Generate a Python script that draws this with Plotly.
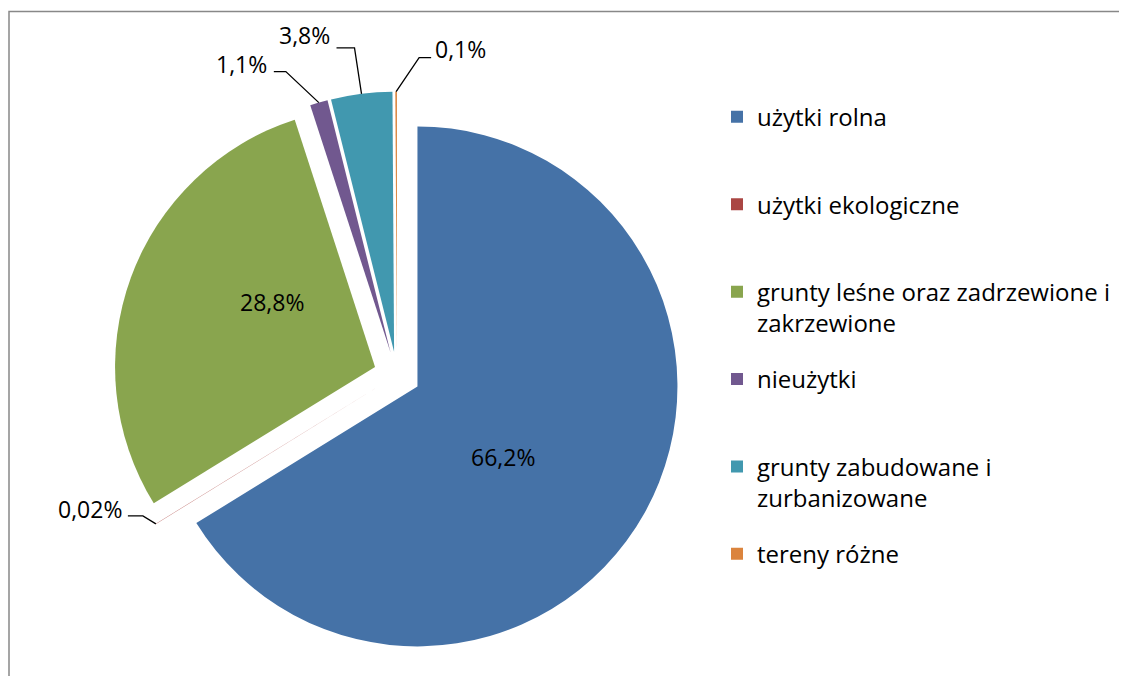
import numpy as np
import plotly.graph_objects as go

# ---- data ----
categories = ["użytki rolna", "użytki ekologiczne",
              "grunty leśne oraz zadrzewione i zakrzewione", "nieużytki",
              "grunty zabudowane i zurbanizowane", "tereny różne"]
legend_text = ["użytki rolna<br> ", "użytki ekologiczne<br> ",
               "grunty leśne oraz zadrzewione i<br>zakrzewione", "nieużytki<br> ",
               "grunty zabudowane i<br>zurbanizowane", "tereny różne<br> "]
values = [66.2, 0.02, 28.8, 1.1, 3.8, 0.1]
colors = ["#4572A7", "#AA4643", "#89A54E", "#71588F", "#4198AF", "#DB843D"]

# figure size (page body adds an 8px margin)
W, H = 1119, 668
FONT = "Open Sans"
FS_LAB = 23
FS_LEG = 24
pull = 0.09
dom_x = [0.0944, 0.6009]
dom_y = [0.02635, 0.87485]

labels_txt = [f"{v:g}".replace(".", ",") + "%" for v in values]

fig = go.Figure()
fig.add_trace(go.Pie(
    labels=categories, values=values, sort=False, direction="clockwise",
    rotation=0, pull=[pull] * len(values),
    marker=dict(colors=colors, line=dict(width=0)),
    text=labels_txt, textinfo="none",
    domain=dict(x=dom_x, y=dom_y), showlegend=False, hoverinfo="label+text",
))

# legend entries
for i, (lab, c) in enumerate(zip(legend_text, colors)):
    fig.add_trace(go.Scatter(x=[None], y=[None], mode="markers", name=lab,
                             marker=dict(symbol="square", size=12, color=c),
                             legendgroup=str(i), showlegend=True, hoverinfo="skip"))

# geometry derived from the data
cx = W * (dom_x[0] + dom_x[1]) / 2
cy = H * (1 - (dom_y[0] + dom_y[1]) / 2)
r_out = min(W * (dom_x[1] - dom_x[0]), H * (dom_y[1] - dom_y[0])) / 2
r_in = r_out / (1 + pull)
total = sum(values)
cum = np.cumsum([0] + values)

def px2p(x, y):
    return x / W, 1 - y / H

def mid_dir(i):
    th = 2 * np.pi * (cum[i] + cum[i + 1]) / 2 / total
    return np.sin(th), -np.cos(th)

shapes = []
annotations = []

# inside labels: distance from slice apex along bisector, plus pixel nudge
inside_style = {0: (110, (-11, 17)), 2: (123, (12, -23))}
for i, (d, (sx, sy)) in inside_style.items():
    ux, uy = mid_dir(i)
    ax_ = cx + pull * r_in * ux + d * ux + sx
    ay_ = cy + pull * r_in * uy + d * uy + sy
    p = px2p(ax_, ay_)
    annotations.append(dict(xref="paper", yref="paper", x=p[0], y=p[1],
                            text=labels_txt[i], showarrow=False,
                            xanchor="center", yanchor="middle",
                            font=dict(size=FS_LAB, family=FONT, color="black")))

# outside labels with elbow leader lines: elbow, end of horizontal, text centre
offsets = {
    1: ((-13, -8), (-28, -8), (-66, -15)),
    3: ((-33, -31), (-45, -31), (-77, -39)),
    4: ((-7, -46), (-25, -46), (-57, -59)),
    5: ((23, -34), (35, -34), (64, -43)),
}
for i, (e, h, t) in offsets.items():
    ux, uy = mid_dir(i)
    tx = cx + r_out * ux
    ty = cy + r_out * uy
    p0 = px2p(tx, ty)
    p1 = px2p(tx + e[0], ty + e[1])
    p2 = px2p(tx + h[0], ty + h[1])
    path = f"M {p0[0]},{p0[1]} L {p1[0]},{p1[1]} L {p2[0]},{p2[1]}"
    shapes.append(dict(type="path", xref="paper", yref="paper", path=path,
                       line=dict(color="black", width=1.3)))
    pt = px2p(tx + t[0], ty + t[1])
    annotations.append(dict(xref="paper", yref="paper", x=pt[0], y=pt[1],
                            text=labels_txt[i], showarrow=False,
                            xanchor="center", yanchor="middle",
                            font=dict(size=FS_LAB, family=FONT, color="black")))

# chart border
shapes.append(dict(type="rect", xref="paper", yref="paper",
                   x0=1.0 / W, x1=1.05, y0=-0.05, y1=1 - 3.5 / H,
                   line=dict(color="#888888", width=1.5)))

fig.update_layout(
    width=W, height=H, margin=dict(l=0, r=0, t=0, b=0),
    paper_bgcolor="white", plot_bgcolor="white",
    xaxis=dict(visible=False), yaxis=dict(visible=False),
    font=dict(family=FONT, size=FS_LEG, color="black"),
    shapes=shapes, annotations=annotations,
    legend=dict(x=0.6336, y=0.8701, xanchor="left", yanchor="top",
                tracegroupgap=22, valign="top", bgcolor="rgba(0,0,0,0)",
                font=dict(family=FONT, size=FS_LEG, color="black")),
)

fig.write_html("out.html")
